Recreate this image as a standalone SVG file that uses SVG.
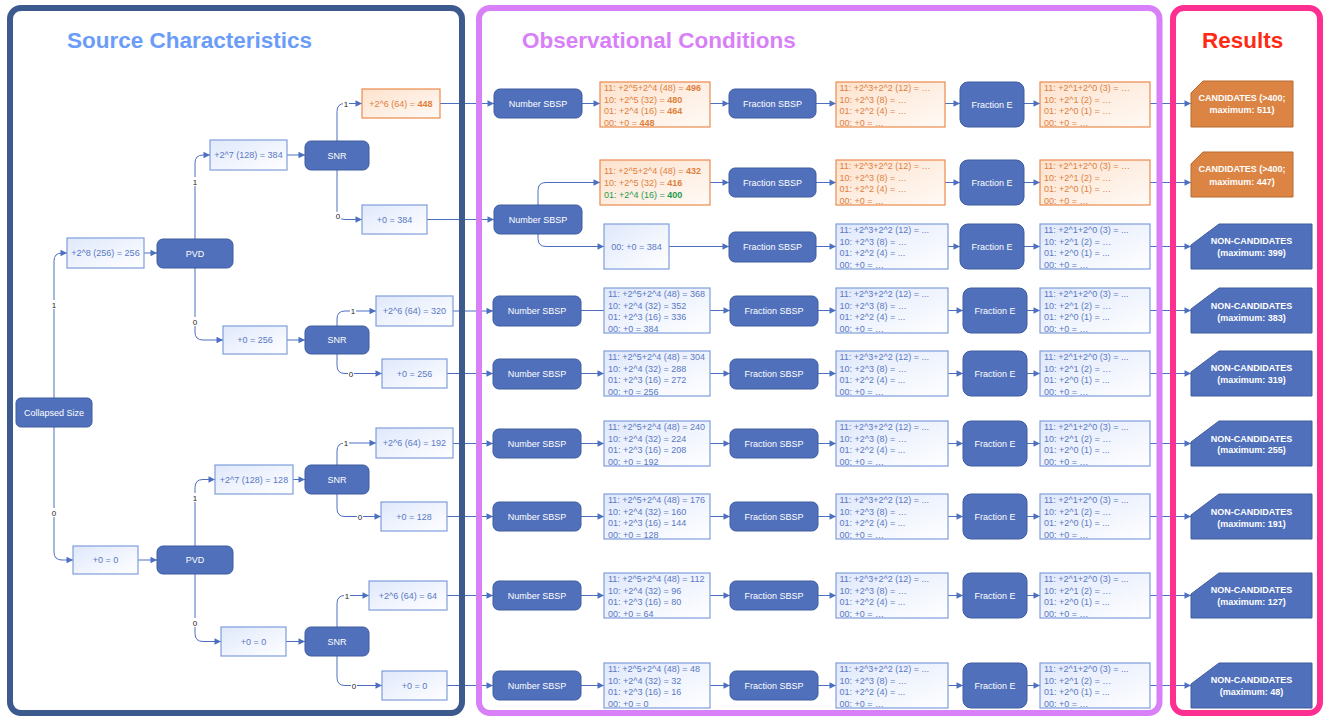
<svg xmlns="http://www.w3.org/2000/svg" width="1333" height="718" viewBox="0 0 1333 718">
<defs>
<linearGradient id="gb" x1="0" y1="0" x2="1" y2="1"><stop offset="0" stop-color="#dfe8fb"/><stop offset="1" stop-color="#ffffff"/></linearGradient>
<linearGradient id="go" x1="0" y1="0" x2="1" y2="1"><stop offset="0" stop-color="#fde2cd"/><stop offset="1" stop-color="#fffaf6"/></linearGradient>
<marker id="ar" viewBox="0 0 10 10" refX="10" refY="5" markerWidth="7" markerHeight="6.5" markerUnits="userSpaceOnUse" orient="auto"><path d="M0,0 L10,5 L0,10 z" fill="#4d6fc0"/></marker>
</defs>
<style>
text{font-family:"Liberation Sans",Arial,sans-serif}
.pn{fill:none;stroke-width:6}
.dk{fill:#5070bb;stroke:#3e5c9e;stroke-width:1}
.lt{fill:url(#gb);stroke:#7f9ddd;stroke-width:1.2}
.or{fill:url(#go);stroke:#ec8a4c;stroke-width:1.2}
.rs{fill:#5070bb;stroke:#3e5c9e;stroke-width:1}
.rc{fill:#dc8444;stroke:#b86a30;stroke-width:1}
.tw{font-size:9px;fill:#fff;text-anchor:middle}
.tb{font-size:9px;fill:#5b79c4}
.tbc{font-size:9px;fill:#5b79c4;text-anchor:middle}
.to{font-size:9px;fill:#e0803e}
.toc{font-size:9px;fill:#e0803e;text-anchor:middle}
.tg{fill:#1c9a50}
.b{font-weight:bold}
.tr{font-size:9px;fill:#fff;font-weight:bold;text-anchor:middle}
.e{fill:none;stroke:#4d6fc0;stroke-width:1;marker-end:url(#ar)}
.el{font-size:8px;fill:#222;text-anchor:middle}
.lb{fill:#fff}
.ttl{font-size:22.5px;font-weight:bold}
</style>
<rect x="0" y="0" width="1333" height="718" fill="#ffffff"/>

<g id="titles">
<text class="ttl" x="67" y="47.5" fill="#6a9cf8">Source Characteristics</text>
<text class="ttl" x="522" y="47.5" fill="#d880f7">Observational Conditions</text>
<text class="ttl" x="1202" y="47.5" fill="#ff2a14">Results</text>
</g>

<g id="connectors">
<path class="e" d="M54,398 V261 Q54,253 62,253 H67"/>
<path class="e" d="M54,427 V552 Q54,560 62,560 H73"/>
<path class="e" d="M144,253 H157"/>
<path class="e" d="M138,560 H157"/>
<path class="e" d="M195,239 V163 Q195,155 203,155 H210"/>
<path class="e" d="M195,268 V332 Q195,340 203,340 H223"/>
<path class="e" d="M195,546 V487.5 Q195,479.5 203,479.5 H215"/>
<path class="e" d="M195,574 V633.5 Q195,641.5 203,641.5 H221"/>
<path class="e" d="M287,155 H305"/>
<path class="e" d="M287,340 H305"/>
<path class="e" d="M293,479.5 H305"/>
<path class="e" d="M286,641.5 H305"/>
<path class="e" d="M337,141 V111.5 Q337,103.5 345,103.5 H362"/>
<path class="e" d="M337,170 V211.5 Q337,219.5 345,219.5 H362"/>
<path class="e" d="M337,326 V319 Q337,311 345,311 H376"/>
<path class="e" d="M337,354 V365.5 Q337,373.5 345,373.5 H382"/>
<path class="e" d="M337,465 V451 Q337,443 345,443 H376"/>
<path class="e" d="M337,494 V508.5 Q337,516.5 345,516.5 H381"/>
<path class="e" d="M337,627 V603.5 Q337,595.5 345,595.5 H369"/>
<path class="e" d="M337,656 V677.5 Q337,685.5 345,685.5 H382"/>
<path class="e" d="M440,103.5 H494"/>
<path class="e" d="M427,219.5 H494"/>
<path class="e" d="M453,311 H493"/>
<path class="e" d="M447,373.5 H493"/>
<path class="e" d="M453,443.5 H493"/>
<path class="e" d="M447,516.5 H493"/>
<path class="e" d="M447,595.5 H493"/>
<path class="e" d="M447,685.5 H493"/>
<!-- row1 -->
<path class="e" d="M582,103.5 H600"/>
<path class="e" d="M710,103.5 H729"/>
<path class="e" d="M816,103.5 H836"/>
<path class="e" d="M945,103.5 H960"/>
<path class="e" d="M1024,103.5 H1040"/>
<path class="e" d="M1150,103.5 H1191"/>
<!-- row2/3 -->
<path class="e" d="M538,205 V190.5 Q538,182.5 546,182.5 H600"/>
<path class="e" d="M538,234 V238.5 Q538,246.5 546,246.5 H604"/>
<path class="e" d="M710,182.5 H729"/>
<path class="e" d="M816,182.5 H836"/>
<path class="e" d="M945,182.5 H960"/>
<path class="e" d="M1024,182.5 H1040"/>
<path class="e" d="M1150,182.5 H1191"/>
<path class="e" d="M669,246.5 H729"/>
<path class="e" d="M816,246.5 H836"/>
<path class="e" d="M948,246.5 H960"/>
<path class="e" d="M1024,246.5 H1040"/>
<path class="e" d="M1150,246.5 H1191"/>
<!-- rows 4-9 -->
<path class="e" d="M581,310.5 H604 M710,310.5 H730"/>
<path class="e" d="M818,310.5 H836"/><path class="e" d="M948,310.5 H963"/><path class="e" d="M1027,310.5 H1040"/><path class="e" d="M1150,310.5 H1191"/>
<path class="e" d="M581,373.5 H604"/><path class="e" d="M710,373.5 H730"/><path class="e" d="M818,373.5 H836"/><path class="e" d="M948,373.5 H963"/><path class="e" d="M1027,373.5 H1040"/><path class="e" d="M1150,373.5 H1191"/>
<path class="e" d="M581,443.5 H604"/><path class="e" d="M710,443.5 H730"/><path class="e" d="M818,443.5 H836"/><path class="e" d="M948,443.5 H963"/><path class="e" d="M1027,443.5 H1040"/><path class="e" d="M1150,443.5 H1191"/>
<path class="e" d="M581,516.5 H604"/><path class="e" d="M710,516.5 H730"/><path class="e" d="M818,516.5 H836"/><path class="e" d="M948,516.5 H963"/><path class="e" d="M1027,516.5 H1040"/><path class="e" d="M1150,516.5 H1191"/>
<path class="e" d="M581,595.5 H604"/><path class="e" d="M710,595.5 H730"/><path class="e" d="M818,595.5 H836"/><path class="e" d="M948,595.5 H963"/><path class="e" d="M1027,595.5 H1040"/><path class="e" d="M1150,595.5 H1191"/>
<path class="e" d="M581,685.5 H604"/><path class="e" d="M710,685.5 H730"/><path class="e" d="M818,685.5 H836"/><path class="e" d="M948,685.5 H963"/><path class="e" d="M1027,685.5 H1040"/><path class="e" d="M1150,685.5 H1191"/>
<!-- labels -->
<g>
<rect class="lb" x="51" y="300" width="6" height="9"/><text class="el" x="54" y="307.5">1</text>
<rect class="lb" x="51" y="508" width="6" height="9"/><text class="el" x="54" y="515.5">0</text>
<rect class="lb" x="192" y="177" width="6" height="9"/><text class="el" x="195" y="184.5">1</text>
<rect class="lb" x="192" y="317" width="6" height="9"/><text class="el" x="195" y="324.5">0</text>
<rect class="lb" x="192" y="493" width="6" height="9"/><text class="el" x="195" y="500.5">1</text>
<rect class="lb" x="192" y="618" width="6" height="9"/><text class="el" x="195" y="625.5">0</text>
<rect class="lb" x="343" y="100" width="6" height="8"/><text class="el" x="346" y="106.5">1</text>
<rect class="lb" x="335" y="212" width="6" height="8"/><text class="el" x="338" y="218.5">0</text>
<rect class="lb" x="350" y="307" width="6" height="8"/><text class="el" x="353" y="313.5">1</text>
<rect class="lb" x="348" y="370" width="6" height="8"/><text class="el" x="351" y="376.5">0</text>
<rect class="lb" x="343" y="439" width="6" height="8"/><text class="el" x="346" y="445.5">1</text>
<rect class="lb" x="357" y="513" width="6" height="8"/><text class="el" x="360" y="519.5">0</text>
<rect class="lb" x="344" y="592" width="6" height="8"/><text class="el" x="347" y="598.5">1</text>
<rect class="lb" x="351" y="682" width="6" height="8"/><text class="el" x="354" y="688.5">0</text>
</g>
</g>

<g id="panels">
<rect class="pn" x="10" y="8" width="452" height="705" rx="11" stroke="#3d5a8f"/>
<rect class="pn" x="479" y="8" width="680.5" height="705" rx="11" stroke="#d880f7"/>
<rect class="pn" x="1173" y="8" width="147" height="705" rx="11" stroke="#fd2f90"/>
</g>

<!-- Source characteristics nodes -->
<g id="n-collapsed"><rect class="dk" x="16" y="398" width="76" height="29" rx="5"/><text class="tw" x="54" y="415.7">Collapsed Size</text></g>
<g id="n-s8"><rect class="lt" x="67" y="238" width="77" height="30"/><text class="tbc" x="105.5" y="256.2">+2^8 (256) = 256</text></g>
<g id="n-s0"><rect class="lt" x="73" y="546" width="65" height="28"/><text class="tbc" x="105.5" y="563.2">+0 = 0</text></g>
<g id="n-pvd1"><rect class="dk" x="157" y="239" width="76" height="29" rx="6"/><text class="tw" x="195" y="256.7">PVD</text></g>
<g id="n-pvd2"><rect class="dk" x="157" y="546" width="76" height="28" rx="6"/><text class="tw" x="195" y="563.2">PVD</text></g>
<g id="n-p384"><rect class="lt" x="210" y="140" width="77" height="30"/><text class="tbc" x="248.5" y="158.2">+2^7 (128) = 384</text></g>
<g id="n-p256"><rect class="lt" x="223" y="326" width="64" height="28"/><text class="tbc" x="255" y="343.2">+0 = 256</text></g>
<g id="n-p128"><rect class="lt" x="215" y="465" width="78" height="29"/><text class="tbc" x="254" y="482.7">+2^7 (128) = 128</text></g>
<g id="n-p0"><rect class="lt" x="221" y="627" width="65" height="29"/><text class="tbc" x="253.5" y="644.7">+0 = 0</text></g>
<g id="n-snr1"><rect class="dk" x="305" y="141" width="64" height="29" rx="6"/><text class="tw" x="337" y="158.7">SNR</text></g>
<g id="n-snr2"><rect class="dk" x="305" y="326" width="64" height="28" rx="6"/><text class="tw" x="337" y="343.2">SNR</text></g>
<g id="n-snr3"><rect class="dk" x="305" y="465" width="64" height="29" rx="6"/><text class="tw" x="337" y="482.7">SNR</text></g>
<g id="n-snr4"><rect class="dk" x="305" y="627" width="64" height="29" rx="6"/><text class="tw" x="337" y="644.7">SNR</text></g>
<g id="n-l448"><rect class="or" x="362" y="89" width="78" height="29"/><text class="toc" x="401" y="106.7">+2^6 (64) = <tspan class="b">448</tspan></text></g>
<g id="n-l384"><rect class="lt" x="362" y="205" width="65" height="29"/><text class="tbc" x="394.5" y="222.7">+0 = 384</text></g>
<g id="n-l320"><rect class="lt" x="376" y="296" width="77" height="30"/><text class="tbc" x="414.5" y="314.2">+2^6 (64) = 320</text></g>
<g id="n-l256"><rect class="lt" x="382" y="359" width="65" height="29"/><text class="tbc" x="414.5" y="376.7">+0 = 256</text></g>
<g id="n-l192"><rect class="lt" x="376" y="428" width="77" height="30"/><text class="tbc" x="414.5" y="446.2">+2^6 (64) = 192</text></g>
<g id="n-l128"><rect class="lt" x="381" y="502" width="66" height="29"/><text class="tbc" x="414" y="519.7">+0 = 128</text></g>
<g id="n-l64"><rect class="lt" x="369" y="581" width="78" height="29"/><text class="tbc" x="408" y="598.7">+2^6 (64) = 64</text></g>
<g id="n-l0"><rect class="lt" x="382" y="671" width="65" height="29"/><text class="tbc" x="414.5" y="688.7">+0 = 0</text></g>

<!-- Row 1 -->
<g id="r1-nsbsp"><rect class="dk" x="494" y="89" width="88" height="29" rx="6"/><text class="tw" x="538" y="106.7">Number SBSP</text></g>
<g id="r1-b1"><rect class="or" x="600" y="82" width="110" height="45"/><text class="to" x="604" y="90.9">11: +2^5+2^4 (48) = <tspan class="b">496</tspan><tspan x="604" dy="11.7">10: +2^5 (32) = </tspan><tspan class="b">480</tspan><tspan x="604" dy="11.7">01: +2^4 (16) = </tspan><tspan class="b">464</tspan><tspan x="604" dy="11.7">00: +0 = </tspan><tspan class="b">448</tspan></text></g>
<g id="r1-fsbsp"><rect class="dk" x="729" y="89" width="87" height="29" rx="6"/><text class="tw" x="772.5" y="106.7">Fraction SBSP</text></g>
<g id="r1-b2"><rect class="or" x="836" y="82" width="109" height="45"/><text class="to" x="839.5" y="90.9">11: +2^3+2^2 (12) = …<tspan x="839.5" dy="11.7">10: +2^3 (8) = …</tspan><tspan x="839.5" dy="11.7">01: +2^2 (4) = …</tspan><tspan x="839.5" dy="11.7">00: +0 = …</tspan></text></g>
<g id="r1-fe"><rect class="dk" x="960" y="82" width="64" height="45" rx="8"/><text class="tw" x="992" y="107.7">Fraction E</text></g>
<g id="r1-b3"><rect class="or" x="1040" y="82" width="110" height="45"/><text class="to" x="1044" y="90.9">11: +2^1+2^0 (3) = …<tspan x="1044" dy="11.7">10: +2^1 (2) = …</tspan><tspan x="1044" dy="11.7">01: +2^0 (1) = …</tspan><tspan x="1044" dy="11.7">00: +0 = …</tspan></text></g>
<g id="r1-res"><path class="rc" d="M1191,93 L1203,81 H1293 V127 H1191 Z"/><text class="tr" x="1242" y="101.2">CANDIDATES (&gt;400;<tspan x="1242" dy="12">maximum: 511)</tspan></text></g>

<!-- Row 2 -->
<g id="r2-nsbsp"><rect class="dk" x="494" y="205" width="88" height="29" rx="6"/><text class="tw" x="538" y="222.7">Number SBSP</text></g>
<g id="r2-b1"><rect class="or" x="600" y="160" width="110" height="45"/><text class="to" x="604" y="173.9">11: +2^5+2^4 (48) = <tspan class="b">432</tspan><tspan x="604" dy="12">10: +2^5 (32) = </tspan><tspan class="b">416</tspan><tspan x="604" dy="12" class="tg">01: +2^4 (16) = </tspan><tspan class="tg b">400</tspan></text></g>
<g id="r2-fsbsp"><rect class="dk" x="729" y="168" width="87" height="29" rx="6"/><text class="tw" x="772.5" y="185.7">Fraction SBSP</text></g>
<g id="r2-b2"><rect class="or" x="836" y="160" width="109" height="45"/><text class="to" x="839.5" y="168.9">11: +2^3+2^2 (12) = …<tspan x="839.5" dy="11.7">10: +2^3 (8) = …</tspan><tspan x="839.5" dy="11.7">01: +2^2 (4) = …</tspan><tspan x="839.5" dy="11.7">00: +0 = …</tspan></text></g>
<g id="r2-fe"><rect class="dk" x="960" y="160" width="64" height="45" rx="8"/><text class="tw" x="992" y="185.7">Fraction E</text></g>
<g id="r2-b3"><rect class="or" x="1040" y="160" width="110" height="45"/><text class="to" x="1044" y="168.9">11: +2^1+2^0 (3) = …<tspan x="1044" dy="11.7">10: +2^1 (2) = …</tspan><tspan x="1044" dy="11.7">01: +2^0 (1) = …</tspan><tspan x="1044" dy="11.7">00: +0 = …</tspan></text></g>
<g id="r2-res"><path class="rc" d="M1191,164 L1203,152 H1293 V197 H1191 Z"/><text class="tr" x="1242" y="172.2">CANDIDATES (&gt;400;<tspan x="1242" dy="12.7">maximum: 447)</tspan></text></g>

<!-- Row 3 -->
<g id="r3-b1"><rect class="lt" x="604" y="224" width="65" height="45"/><text class="tbc" x="636.5" y="249.7">00: +0 = 384</text></g>
<g id="r3-fsbsp"><rect class="dk" x="729" y="232" width="87" height="30" rx="6"/><text class="tw" x="772.5" y="250.2">Fraction SBSP</text></g>
<g id="r3-b2"><rect class="lt" x="836" y="224" width="112" height="45"/><text class="tb" x="839.5" y="232.9">11: +2^3+2^2 (12) = ...<tspan x="839.5" dy="11.7">10: +2^3 (8) = …</tspan><tspan x="839.5" dy="11.7">01: +2^2 (4) = ...</tspan><tspan x="839.5" dy="11.7">00: +0 = …</tspan></text></g>
<g id="r3-fe"><rect class="dk" x="960" y="224" width="64" height="45" rx="8"/><text class="tw" x="992" y="249.7">Fraction E</text></g>
<g id="r3-b3"><rect class="lt" x="1040" y="224" width="110" height="45"/><text class="tb" x="1044" y="232.9">11: +2^1+2^0 (3) = ...<tspan x="1044" dy="11.7">10: +2^1 (2) = …</tspan><tspan x="1044" dy="11.7">01: +2^0 (1) = ...</tspan><tspan x="1044" dy="11.7">00: +0 = …</tspan></text></g>
<g id="r3-res"><path class="rs" d="M1191,245 L1219,224 H1312 V269 H1191 Z"/><text class="tr" x="1251.5" y="243.9">NON-CANDIDATES<tspan x="1251.5" dy="12">(maximum: 399)</tspan></text></g>

<!-- Row 4 -->
<g id="r4-nsbsp"><rect class="dk" x="493" y="296" width="88" height="30" rx="6"/><text class="tw" x="537" y="314.2">Number SBSP</text></g>
<g id="r4-b1"><rect class="lt" x="604" y="288" width="106" height="45"/><text class="tb" x="608" y="296.9">11: +2^5+2^4 (48) = 368<tspan x="608" dy="11.7">10: +2^4 (32) = 352</tspan><tspan x="608" dy="11.7">01: +2^3 (16) = 336</tspan><tspan x="608" dy="11.7">00: +0 = 384</tspan></text></g>
<g id="r4-fsbsp"><rect class="dk" x="730" y="296" width="88" height="30" rx="6"/><text class="tw" x="774" y="314.2">Fraction SBSP</text></g>
<g id="r4-b2"><rect class="lt" x="836" y="288" width="112" height="45"/><text class="tb" x="839.5" y="296.9">11: +2^3+2^2 (12) = ...<tspan x="839.5" dy="11.7">10: +2^3 (8) = …</tspan><tspan x="839.5" dy="11.7">01: +2^2 (4) = ...</tspan><tspan x="839.5" dy="11.7">00: +0 = …</tspan></text></g>
<g id="r4-fe"><rect class="dk" x="963" y="288" width="64" height="45" rx="8"/><text class="tw" x="995" y="313.7">Fraction E</text></g>
<g id="r4-b3"><rect class="lt" x="1040" y="288" width="110" height="45"/><text class="tb" x="1044" y="296.9">11: +2^1+2^0 (3) = ...<tspan x="1044" dy="11.7">10: +2^1 (2) = …</tspan><tspan x="1044" dy="11.7">01: +2^0 (1) = ...</tspan><tspan x="1044" dy="11.7">00: +0 = …</tspan></text></g>
<g id="r4-res"><path class="rs" d="M1191,309 L1219,288 H1312 V333 H1191 Z"/><text class="tr" x="1251.5" y="308.5">NON-CANDIDATES<tspan x="1251.5" dy="12">(maximum: 383)</tspan></text></g>

<!-- Row 5 -->
<g id="r5-nsbsp"><rect class="dk" x="493" y="359" width="88" height="30" rx="6"/><text class="tw" x="537" y="377.2">Number SBSP</text></g>
<g id="r5-b1"><rect class="lt" x="604" y="351" width="106" height="45"/><text class="tb" x="608" y="359.9">11: +2^5+2^4 (48) = 304<tspan x="608" dy="11.7">10: +2^4 (32) = 288</tspan><tspan x="608" dy="11.7">01: +2^3 (16) = 272</tspan><tspan x="608" dy="11.7">00: +0 = 256</tspan></text></g>
<g id="r5-fsbsp"><rect class="dk" x="730" y="359" width="88" height="30" rx="6"/><text class="tw" x="774" y="377.2">Fraction SBSP</text></g>
<g id="r5-b2"><rect class="lt" x="836" y="351" width="112" height="45"/><text class="tb" x="839.5" y="359.9">11: +2^3+2^2 (12) = ...<tspan x="839.5" dy="11.7">10: +2^3 (8) = …</tspan><tspan x="839.5" dy="11.7">01: +2^2 (4) = ...</tspan><tspan x="839.5" dy="11.7">00: +0 = …</tspan></text></g>
<g id="r5-fe"><rect class="dk" x="963" y="351" width="64" height="45" rx="8"/><text class="tw" x="995" y="376.7">Fraction E</text></g>
<g id="r5-b3"><rect class="lt" x="1040" y="351" width="110" height="45"/><text class="tb" x="1044" y="359.9">11: +2^1+2^0 (3) = ...<tspan x="1044" dy="11.7">10: +2^1 (2) = …</tspan><tspan x="1044" dy="11.7">01: +2^0 (1) = ...</tspan><tspan x="1044" dy="11.7">00: +0 = …</tspan></text></g>
<g id="r5-res"><path class="rs" d="M1191,372 L1219,351 H1312 V396 H1191 Z"/><text class="tr" x="1251.5" y="371.2">NON-CANDIDATES<tspan x="1251.5" dy="12">(maximum: 319)</tspan></text></g>

<!-- Row 6 -->
<g id="r6-nsbsp"><rect class="dk" x="493" y="429" width="88" height="29" rx="6"/><text class="tw" x="537" y="446.7">Number SBSP</text></g>
<g id="r6-b1"><rect class="lt" x="604" y="421" width="106" height="45"/><text class="tb" x="608" y="429.9">11: +2^5+2^4 (48) = 240<tspan x="608" dy="11.7">10: +2^4 (32) = 224</tspan><tspan x="608" dy="11.7">01: +2^3 (16) = 208</tspan><tspan x="608" dy="11.7">00: +0 = 192</tspan></text></g>
<g id="r6-fsbsp"><rect class="dk" x="730" y="429" width="88" height="29" rx="6"/><text class="tw" x="774" y="446.7">Fraction SBSP</text></g>
<g id="r6-b2"><rect class="lt" x="836" y="421" width="112" height="45"/><text class="tb" x="839.5" y="429.9">11: +2^3+2^2 (12) = ...<tspan x="839.5" dy="11.7">10: +2^3 (8) = …</tspan><tspan x="839.5" dy="11.7">01: +2^2 (4) = ...</tspan><tspan x="839.5" dy="11.7">00: +0 = …</tspan></text></g>
<g id="r6-fe"><rect class="dk" x="963" y="421" width="64" height="45" rx="8"/><text class="tw" x="995" y="446.7">Fraction E</text></g>
<g id="r6-b3"><rect class="lt" x="1040" y="421" width="110" height="45"/><text class="tb" x="1044" y="429.9">11: +2^1+2^0 (3) = ...<tspan x="1044" dy="11.7">10: +2^1 (2) = …</tspan><tspan x="1044" dy="11.7">01: +2^0 (1) = ...</tspan><tspan x="1044" dy="11.7">00: +0 = …</tspan></text></g>
<g id="r6-res"><path class="rs" d="M1191,442 L1219,421 H1312 V466 H1191 Z"/><text class="tr" x="1251.5" y="441.5">NON-CANDIDATES<tspan x="1251.5" dy="11.7">(maximum: 255)</tspan></text></g>

<!-- Row 7 -->
<g id="r7-nsbsp"><rect class="dk" x="493" y="502" width="88" height="29" rx="6"/><text class="tw" x="537" y="519.7">Number SBSP</text></g>
<g id="r7-b1"><rect class="lt" x="604" y="494" width="106" height="45"/><text class="tb" x="608" y="502.9">11: +2^5+2^4 (48) = 176<tspan x="608" dy="11.7">10: +2^4 (32) = 160</tspan><tspan x="608" dy="11.7">01: +2^3 (16) = 144</tspan><tspan x="608" dy="11.7">00: +0 = 128</tspan></text></g>
<g id="r7-fsbsp"><rect class="dk" x="730" y="502" width="88" height="29" rx="6"/><text class="tw" x="774" y="519.7">Fraction SBSP</text></g>
<g id="r7-b2"><rect class="lt" x="836" y="494" width="112" height="45"/><text class="tb" x="839.5" y="502.9">11: +2^3+2^2 (12) = ...<tspan x="839.5" dy="11.7">10: +2^3 (8) = …</tspan><tspan x="839.5" dy="11.7">01: +2^2 (4) = ...</tspan><tspan x="839.5" dy="11.7">00: +0 = …</tspan></text></g>
<g id="r7-fe"><rect class="dk" x="963" y="494" width="64" height="45" rx="8"/><text class="tw" x="995" y="519.7">Fraction E</text></g>
<g id="r7-b3"><rect class="lt" x="1040" y="494" width="110" height="45"/><text class="tb" x="1044" y="502.9">11: +2^1+2^0 (3) = ...<tspan x="1044" dy="11.7">10: +2^1 (2) = …</tspan><tspan x="1044" dy="11.7">01: +2^0 (1) = ...</tspan><tspan x="1044" dy="11.7">00: +0 = …</tspan></text></g>
<g id="r7-res"><path class="rs" d="M1191,515 L1219,494 H1312 V539 H1191 Z"/><text class="tr" x="1251.5" y="514.9">NON-CANDIDATES<tspan x="1251.5" dy="11.6">(maximum: 191)</tspan></text></g>

<!-- Row 8 -->
<g id="r8-nsbsp"><rect class="dk" x="493" y="581" width="88" height="29" rx="6"/><text class="tw" x="537" y="598.7">Number SBSP</text></g>
<g id="r8-b1"><rect class="lt" x="604" y="573" width="106" height="45"/><text class="tb" x="608" y="581.9">11: +2^5+2^4 (48) = 112<tspan x="608" dy="11.7">10: +2^4 (32) = 96</tspan><tspan x="608" dy="11.7">01: +2^3 (16) = 80</tspan><tspan x="608" dy="11.7">00: +0 = 64</tspan></text></g>
<g id="r8-fsbsp"><rect class="dk" x="730" y="581" width="88" height="29" rx="6"/><text class="tw" x="774" y="598.7">Fraction SBSP</text></g>
<g id="r8-b2"><rect class="lt" x="836" y="573" width="112" height="45"/><text class="tb" x="839.5" y="581.9">11: +2^3+2^2 (12) = ...<tspan x="839.5" dy="11.7">10: +2^3 (8) = …</tspan><tspan x="839.5" dy="11.7">01: +2^2 (4) = ...</tspan><tspan x="839.5" dy="11.7">00: +0 = …</tspan></text></g>
<g id="r8-fe"><rect class="dk" x="963" y="573" width="64" height="45" rx="8"/><text class="tw" x="995" y="598.7">Fraction E</text></g>
<g id="r8-b3"><rect class="lt" x="1040" y="573" width="110" height="45"/><text class="tb" x="1044" y="581.9">11: +2^1+2^0 (3) = ...<tspan x="1044" dy="11.7">10: +2^1 (2) = …</tspan><tspan x="1044" dy="11.7">01: +2^0 (1) = ...</tspan><tspan x="1044" dy="11.7">00: +0 = …</tspan></text></g>
<g id="r8-res"><path class="rs" d="M1191,594 L1219,573 H1312 V618 H1191 Z"/><text class="tr" x="1251.5" y="593.2">NON-CANDIDATES<tspan x="1251.5" dy="11.7">(maximum: 127)</tspan></text></g>

<!-- Row 9 -->
<g id="r9-nsbsp"><rect class="dk" x="493" y="671" width="88" height="29" rx="6"/><text class="tw" x="537" y="688.7">Number SBSP</text></g>
<g id="r9-b1"><rect class="lt" x="604" y="663" width="106" height="45"/><text class="tb" x="608" y="671.9">11: +2^5+2^4 (48) = 48<tspan x="608" dy="11.7">10: +2^4 (32) = 32</tspan><tspan x="608" dy="11.7">01: +2^3 (16) = 16</tspan><tspan x="608" dy="11.7">00: +0 = 0</tspan></text></g>
<g id="r9-fsbsp"><rect class="dk" x="730" y="671" width="88" height="29" rx="6"/><text class="tw" x="774" y="688.7">Fraction SBSP</text></g>
<g id="r9-b2"><rect class="lt" x="836" y="663" width="112" height="45"/><text class="tb" x="839.5" y="671.9">11: +2^3+2^2 (12) = ...<tspan x="839.5" dy="11.7">10: +2^3 (8) = …</tspan><tspan x="839.5" dy="11.7">01: +2^2 (4) = ...</tspan><tspan x="839.5" dy="11.7">00: +0 = …</tspan></text></g>
<g id="r9-fe"><rect class="dk" x="963" y="663" width="64" height="45" rx="8"/><text class="tw" x="995" y="688.7">Fraction E</text></g>
<g id="r9-b3"><rect class="lt" x="1040" y="663" width="110" height="45"/><text class="tb" x="1044" y="671.9">11: +2^1+2^0 (3) = ...<tspan x="1044" dy="11.7">10: +2^1 (2) = …</tspan><tspan x="1044" dy="11.7">01: +2^0 (1) = ...</tspan><tspan x="1044" dy="11.7">00: +0 = …</tspan></text></g>
<g id="r9-res"><path class="rs" d="M1191,684 L1219,663 H1312 V708 H1191 Z"/><text class="tr" x="1251.5" y="683.2">NON-CANDIDATES<tspan x="1251.5" dy="11.7">(maximum: 48)</tspan></text></g>
</svg>
